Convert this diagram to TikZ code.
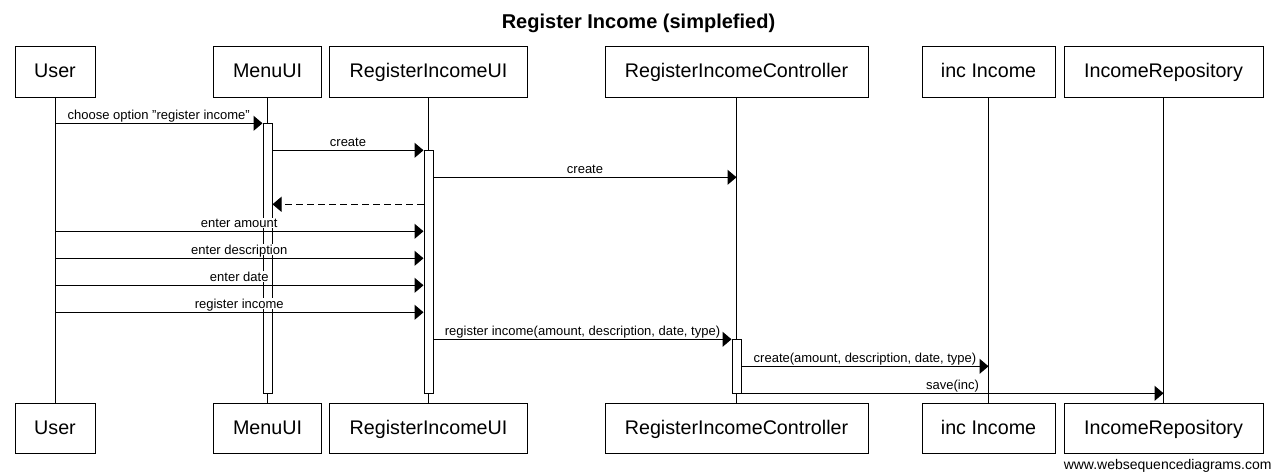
\documentclass[tikz,border=0pt]{standalone}
\usepackage{fontspec}
\setmainfont{Liberation Sans}
\usetikzlibrary{arrows.meta}

\begin{document}
\begin{tikzpicture}[x=1pt,y=-1pt,line width=1pt,
  actor/.style={draw,fill=white,minimum height=50.5pt,inner sep=0pt,
    font=\fontsize{19.7pt}{23pt}\selectfont,text height=14pt,text depth=3pt},
  actbar/.style={draw,fill=white,minimum width=9pt,inner sep=0pt,anchor=north},
  msg/.style={-{Triangle[length=9pt,width=15pt]}},
  ret/.style={msg,dash pattern=on 7pt off 4pt},
  lbl/.style={anchor=south,fill=white,inner sep=1pt,yshift=2.5pt,
    text depth=0pt,font=\fontsize{13pt}{15pt}\selectfont}]
\useasboundingbox (0,0) rectangle (1276,476);

\node[font=\fontsize{20pt}{24pt}\selectfont\bfseries,anchor=base] (title) at (638.5,29) {Register Income (simplefied)};

\node[actor,minimum width=80pt] (user) at (55,72) {User};
\node[actor,minimum width=108pt] (menu) at (267.5,72) {MenuUI};
\node[actor,minimum width=198pt] (ui) at (428.5,72) {RegisterIncomeUI};
\node[actor,minimum width=263pt] (ctrl) at (736.5,72) {RegisterIncomeController};
\node[actor,minimum width=133pt] (inc) at (988.5,72) {inc Income};
\node[actor,minimum width=199pt] (repo) at (1163.5,72) {IncomeRepository};

\node[actor,minimum width=80pt] (userB) at (55,428.5) {User};
\node[actor,minimum width=108pt] (menuB) at (267.5,428.5) {MenuUI};
\node[actor,minimum width=198pt] (uiB) at (428.5,428.5) {RegisterIncomeUI};
\node[actor,minimum width=263pt] (ctrlB) at (736.5,428.5) {RegisterIncomeController};
\node[actor,minimum width=133pt] (incB) at (988.5,428.5) {inc Income};
\node[actor,minimum width=199pt] (repoB) at (1163.5,428.5) {IncomeRepository};

\foreach \a in {user,menu,ui,ctrl,inc,repo}
  \draw (\a) -- (\a B);

\foreach \i in {1,...,11}
  \coordinate (m\i) at (0,{96.3+27*\i});

\node[actbar,minimum height=270pt] (menubar) at (menu |- m1) {};
\node[actbar,minimum height=243pt] (uibar) at (ui |- m2) {};
\node[actbar,minimum height=54pt] (ctrlbar) at (ctrl |- m9) {};

\draw[msg] (user |- m1) -- node[lbl]{choose option "register income"} (menubar.west |- m1);
\draw[msg] (menubar.east |- m2) -- node[lbl]{create} (uibar.west |- m2);
\draw[msg] (uibar.east |- m3) -- node[lbl]{create} (ctrl |- m3);
\draw[ret] (uibar.west |- m4) -- (menubar.east |- m4);
\draw[msg] (user |- m5) -- node[lbl]{enter amount} (uibar.west |- m5);
\draw[msg] (user |- m6) -- node[lbl]{enter description} (uibar.west |- m6);
\draw[msg] (user |- m7) -- node[lbl]{enter date} (uibar.west |- m7);
\draw[msg] (user |- m8) -- node[lbl]{register income} (uibar.west |- m8);
\draw[msg] (uibar.east |- m9) -- node[lbl]{register income(amount, description, date, type)} (ctrlbar.west |- m9);
\draw[msg] (ctrlbar.east |- m10) -- node[lbl]{create(amount, description, date, type)} (inc |- m10);
\draw[msg] (ctrlbar.east |- m11) -- node[lbl]{save(inc)} (repo |- m11);

\node[anchor=base east,inner sep=0pt,font=\fontsize{14pt}{16pt}\selectfont] (wsd) at (1272,469) {www.websequencediagrams.com};
\end{tikzpicture}
\end{document}
